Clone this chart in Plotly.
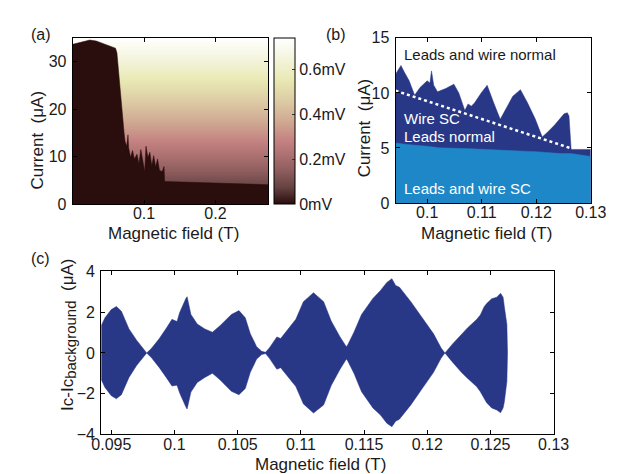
import plotly.graph_objects as go

# ---------------- data ----------------
# Panel (a): critical current boundary (wire + leads SC region), full field range
a_field_T = [0.0, 0.01, 0.024, 0.033, 0.046, 0.060, 0.062, 0.0689, 0.0703, 0.0721,
             0.0734, 0.0757, 0.0775, 0.0784, 0.0811, 0.0838, 0.0865, 0.0901, 0.0928,
             0.0955, 0.0982, 0.1009, 0.1027, 0.1054, 0.1081, 0.1108, 0.1135, 0.1162,
             0.1189, 0.1216, 0.1253, 0.1280, 0.1288, 0.274]
a_ic_uA = [33.7, 34.1, 34.6, 34.4, 33.6, 32.9, 31.9, 19.3, 16.6, 14.9,
           13.2, 12.2, 14.6, 11.9, 9.8, 11.3, 9.5, 10.5, 8.5,
           11.5, 9.2, 6.8, 12.2, 9.8, 10.9, 8.1, 10.2, 7.8,
           9.5, 7.1, 6.8, 7.9, 4.75, 4.07]
# Panel (a): background voltage vs current (normal state), colour bar in mV
bg_current_uA = [0.0, 35.0]
bg_voltage_mV = [0.0, 0.74]
bg_field_T = [0.0, 0.274]
cbar_vals = [0.0, 0.2, 0.4, 0.6]
cbar_text = ["0mV", "0.2mV", "0.4mV", "0.6mV"]

# Panel (b): wire critical current (dark) and leads critical current (light)
b_wire_field = [0.0942, 0.0952, 0.0958, 0.0967, 0.0977, 0.0987, 0.1000, 0.1005, 0.1008,
                0.1012, 0.1019, 0.1034, 0.1049, 0.1058, 0.1069, 0.1075, 0.1081, 0.1087,
                0.1099, 0.1110, 0.1122, 0.1134, 0.1146, 0.1157, 0.1171, 0.1184, 0.1198,
                0.1211, 0.1222, 0.1234, 0.1251, 0.1257, 0.1260, 0.1263, 0.1264, 0.1300]
b_wire_ic = [11.7, 12.5, 11.9, 11.1, 9.8, 10.5, 11.1, 10.9, 12.0,
             10.7, 10.1, 10.4, 10.8, 10.0, 8.4, 9.0, 8.8, 9.1,
             10.0, 10.7, 9.1, 7.6, 8.7, 9.7, 10.3, 9.1, 7.65,
             6.0, 6.5, 7.1, 8.1, 8.2, 7.9, 5.3, 4.87, 4.87]
b_leads_field = [0.0942, 0.0964, 0.1000, 0.1022, 0.1081, 0.1100, 0.1140, 0.1200,
                 0.1245, 0.1264, 0.1300]
b_leads_ic = [5.46, 5.31, 5.16, 5.02, 4.93, 4.87, 4.79, 4.67, 4.49, 4.49, 4.23]
b_trend_field = [0.0942, 0.1265]
b_trend_ic = [10.2, 4.95]
b_labels = ["Leads and wire normal", "Wire SC", "Leads normal", "Leads and wire SC"]
b_label_y = [13.5, 7.65, 6.04, 1.3]

# Panel (c): oscillating part of Ic, upper and lower envelopes
c_field = [0.0942, 0.0945, 0.0950, 0.0954, 0.0958, 0.0964, 0.0970, 0.0976, 0.0978,
           0.0982, 0.0988, 0.0994, 0.0998, 0.1002, 0.1004, 0.1009, 0.1010, 0.1013,
           0.1018, 0.1024, 0.1030, 0.1036, 0.1045, 0.1051, 0.1056, 0.1060, 0.1065,
           0.1069, 0.1072, 0.1075, 0.1078, 0.1081, 0.1084, 0.1090, 0.1096, 0.1102,
           0.1110, 0.1118, 0.1124, 0.1131, 0.1136, 0.1137, 0.1142, 0.1148, 0.1157,
           0.1163, 0.1168, 0.1172, 0.1175, 0.1178, 0.1187, 0.1196, 0.1205, 0.1211,
           0.1214, 0.1220, 0.1227, 0.1232, 0.1239, 0.1242, 0.1245, 0.1247, 0.1251,
           0.1255, 0.1258, 0.1260, 0.1261, 0.1263, 0.12635]
c_upper = [1.34, 1.73, 2.13, 2.28, 2.05, 1.18, 0.63, 0.13, 0.0,
           0.24, 0.71, 1.26, 1.65, 1.54, 1.97, 2.68, 2.76, 1.89,
           1.42, 1.18, 1.02, 1.34, 1.89, 2.08, 1.73, 0.94, 0.31,
           0.08, 0.03, 0.24, 0.55, 0.79, 0.71, 1.18, 1.65, 2.52,
           2.96, 2.52, 1.57, 0.79, 0.31, 0.39, 1.02, 1.89, 2.68,
           3.07, 3.46, 3.65, 3.31, 3.23, 2.52, 1.73, 0.94, 0.24,
           0.0, 0.44, 0.93, 1.24, 1.64, 1.87, 2.27, 2.43, 2.66,
           2.74, 2.93, 2.74, 2.27, 1.40, 0.0]
c_lower = [-1.30, -1.70, -2.10, -2.25, -2.05, -1.20, -0.62, -0.12, 0.0,
           -0.25, -0.72, -1.25, -1.62, -1.58, -1.95, -2.65, -2.75, -1.92,
           -1.45, -1.20, -1.00, -1.32, -1.88, -2.05, -1.75, -0.95, -0.30,
           -0.08, -0.03, -0.25, -0.55, -0.80, -0.72, -1.20, -1.65, -2.50,
           -2.95, -2.55, -1.60, -0.80, -0.30, -0.38, -1.00, -1.90, -2.70,
           -3.05, -3.45, -3.62, -3.35, -3.25, -2.55, -1.75, -0.95, -0.25,
           0.0, -0.45, -0.95, -1.25, -1.65, -1.90, -2.20, -2.45, -2.70,
           -2.80, -2.93, -2.70, -2.40, -1.40, 0.0]
c_ticks = [0.095, 0.1, 0.105, 0.11, 0.115, 0.12, 0.125, 0.13]
c_ticktext = ["0.095", "0.1", "0.105", "0.11", "0.115", "0.12", "0.125", "0.13"]

# ---------------- styling ----------------
W, H = 625, 474
FONT = "Liberation Sans, Arial, Helvetica, sans-serif"
TXT = "#1a1a1a"
DARK_BLUE = "rgb(41,55,135)"
LIGHT_BLUE = "rgb(30,135,200)"
SC_DARK = "rgb(42,13,13)"
pink_scale = [
    [0.0, "rgb(42,13,13)"], [0.1, "rgb(101,66,66)"], [0.2, "rgb(142,93,93)"],
    [0.3, "rgb(174,114,114)"], [0.375, "rgb(195,128,128)"], [0.5, "rgb(208,170,147)"],
    [0.625, "rgb(221,204,165)"], [0.75, "rgb(233,233,180)"], [0.875, "rgb(244,244,221)"],
    [1.0, "rgb(255,255,255)"],
]


def px_x(p):
    return p / W


def px_y(p):
    return 1 - p / H


fig = go.Figure()

# Panel (a)
fig.add_trace(go.Heatmap(
    x=bg_field_T, y=bg_current_uA,
    z=[[v, v] for v in bg_voltage_mV],
    zmin=bg_voltage_mV[0], zmax=bg_voltage_mV[1],
    zsmooth="best", colorscale=pink_scale, xaxis="x", yaxis="y",
    hoverinfo="skip",
    colorbar=dict(
        x=px_x(267.7), xanchor="left", y=px_y(195), yanchor="bottom",
        len=(195 - 23) / H, lenmode="fraction", thickness=21, thicknessmode="pixels",
        xpad=0, ypad=0, outlinewidth=1, outlinecolor="black",
        tickvals=cbar_vals, ticktext=cbar_text, ticks="inside", ticklen=3,
        tickcolor="#333", tickfont=dict(family=FONT, size=16, color=TXT),
    ),
))
fig.add_trace(go.Scatter(
    x=a_field_T, y=a_ic_uA, mode="lines", fill="tozeroy",
    fillcolor=SC_DARK, line=dict(color=SC_DARK, width=0.5),
    xaxis="x", yaxis="y", showlegend=False, hoverinfo="skip",
))

# Panel (b)
fig.add_trace(go.Scatter(
    x=b_wire_field, y=b_wire_ic, mode="lines", fill="tozeroy",
    fillcolor=DARK_BLUE, line=dict(color=DARK_BLUE, width=0.5),
    xaxis="x2", yaxis="y2", showlegend=False,
))
fig.add_trace(go.Scatter(
    x=b_leads_field, y=b_leads_ic, mode="lines", fill="tozeroy",
    fillcolor=LIGHT_BLUE, line=dict(color=LIGHT_BLUE, width=0.5),
    xaxis="x2", yaxis="y2", showlegend=False,
))
fig.add_trace(go.Scatter(
    x=b_trend_field, y=b_trend_ic, mode="lines",
    line=dict(color="white", width=2.5, dash="dot"),
    xaxis="x2", yaxis="y2", showlegend=False,
))

# Panel (c)
fig.add_trace(go.Scatter(
    x=c_field, y=c_lower, mode="lines", line=dict(color=DARK_BLUE, width=0.5),
    xaxis="x3", yaxis="y3", showlegend=False,
))
fig.add_trace(go.Scatter(
    x=c_field, y=c_upper, mode="lines", fill="tonexty", fillcolor=DARK_BLUE,
    line=dict(color=DARK_BLUE, width=0.5),
    xaxis="x3", yaxis="y3", showlegend=False,
))

axis_common = dict(
    showline=True, linecolor="black", linewidth=1, mirror="ticks",
    ticks="inside", ticklen=4, tickcolor="black", tickwidth=1,
    showgrid=False, zeroline=False,
    tickfont=dict(family=FONT, size=16, color=TXT),
)

fig.update_layout(
    width=W, height=H, margin=dict(l=0, r=0, t=0, b=0),
    paper_bgcolor="white", plot_bgcolor="white", showlegend=False,
    font=dict(family=FONT, size=16, color=TXT),
    xaxis=dict(domain=[px_x(58), px_x(261.7)], range=[bg_field_T[0], bg_field_T[1]],
               tickvals=[0.1, 0.2], ticktext=["0.1", "0.2"], anchor="y",
               ticklabelstandoff=-5, **axis_common),
    yaxis=dict(domain=[px_y(195), px_y(23)], range=[0, 35],
               tickvals=[0, 10, 20, 30], anchor="x", ticklabelstandoff=2, **axis_common),
    xaxis2=dict(domain=[px_x(394.3), px_x(597.7)], range=[0.0942, 0.13],
                tickvals=[0.1, 0.11, 0.12, 0.13], ticktext=["0.1", "0.11", "0.12", "0.13"],
                anchor="y2", ticklabelstandoff=-5, **axis_common),
    yaxis2=dict(domain=[px_y(194), px_y(22.7)], range=[0, 15],
                tickvals=[0, 5, 10, 15], anchor="x2", ticklabelstandoff=2, **axis_common),
    xaxis3=dict(domain=[px_x(87.7), px_x(559)], range=[0.0942, 0.13],
                tickvals=c_ticks, ticktext=c_ticktext, anchor="y3",
                ticklabelstandoff=-5, **axis_common),
    yaxis3=dict(domain=[px_y(434), px_y(265)], range=[-4, 4],
                tickvals=[-4, -2, 0, 2, 4], anchor="x3", ticklabelstandoff=2, **axis_common),
)

ann = []
# panel letters
for txt, x, y in [("(a)", 25, 19), ("(b)", 332, 19), ("(c)", 24, 252)]:
    ann.append(dict(text=txt, x=px_x(x), y=px_y(y), xref="paper", yref="paper",
                    showarrow=False, xanchor="center", yanchor="middle",
                    font=dict(family=FONT, size=16, color=TXT)))
# axis titles
for txt, x, y, ang in [
    ("Magnetic field (T)", 163, 225.5, 0),
    ("Magnetic field (T)", 489, 225.5, 0),
    ("Magnetic field (T)", 316, 465, 0),
    ("Current\u00a0\u00a0(\u03bcA)", 21, 129, -90),
    ("Current\u00a0\u00a0(\u03bcA)", 362, 116, -90),
    ("Ic-Ic<sub><span style='font-size:15px'>background</span></sub>\u00a0\u00a0(\u03bcA)",
     54, 331, -90),
]:
    ann.append(dict(text=txt, x=px_x(x), y=px_y(y), xref="paper", yref="paper",
                    showarrow=False, xanchor="center", yanchor="middle", textangle=ang,
                    font=dict(family=FONT, size=17, color=TXT)))
# region labels in panel (b)
for txt, yv in zip(b_labels, b_label_y):
    ann.append(dict(text=txt, x=0.0953, y=yv, xref="x2", yref="y2", showarrow=False,
                    xanchor="left", yanchor="middle",
                    font=dict(family=FONT, size=15,
                              color=TXT if txt == b_labels[0] else "white")))
fig.update_layout(annotations=ann)

fig.write_html("out.html")
